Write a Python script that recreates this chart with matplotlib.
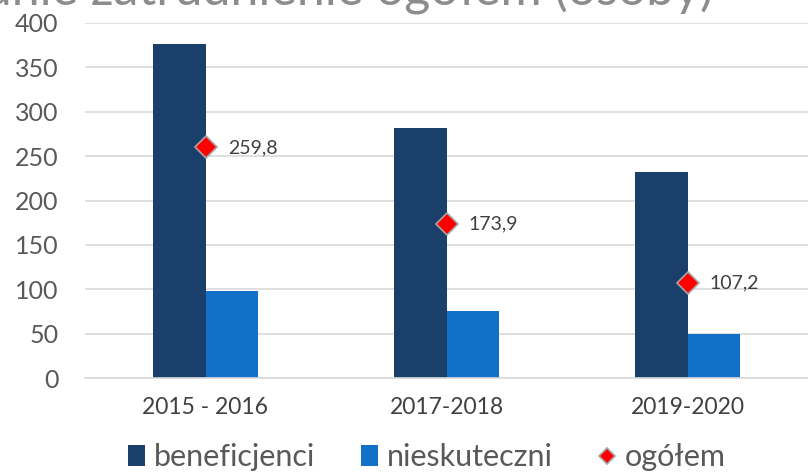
import matplotlib
matplotlib.use("Agg")
import matplotlib.pyplot as plt
import numpy as np

categories = ["2015 - 2016", "2017-2018", "2019-2020"]
beneficjenci = [376, 282, 232]
nieskuteczni = [98, 75, 50]
ogolem = [259.8, 173.9, 107.2]
ogolem_labels = ["259,8", "173,9", "107,2"]
yticks = [0, 50, 100, 150, 200, 250, 300, 350, 400]

plt.rcParams['font.family'] = ['Lato', 'DejaVu Sans']
fig = plt.figure(figsize=(8.08, 4.75), dpi=100)
ax = fig.add_axes([85/808, 1-378/475, 723/808, 355/475])

x = np.arange(len(categories))
w = 0.216
b1 = ax.bar(x - w/2, beneficjenci, w, color="#1a3f6b", label="beneficjenci", zorder=2)
b2 = ax.bar(x + w/2, nieskuteczni, w, color="#1170c7", label="nieskuteczni", zorder=2)
m, = ax.plot(x, ogolem, linestyle="none", marker="D", markersize=11, markerfacecolor="#ff0000",
             markeredgecolor="#a6a6a6", markeredgewidth=1.2, label="ogółem", zorder=3)
for xi, v, lab in zip(x, ogolem, ogolem_labels):
    ax.annotate(lab, (xi, v), xytext=(16, 0), textcoords="offset points", va="center",
                ha="left", fontsize=14, color="#404040")

ax.set_xlim(-0.5, 2.5)
ax.set_ylim(0, 400)
ax.set_yticks(yticks)
ax.set_xticks(x)
ax.set_xticklabels(categories)
ax.grid(axis="y", color="#d9d9d9", linewidth=1.2, zorder=0)
for s in ["top", "right", "left"]:
    ax.spines[s].set_visible(False)
ax.spines["bottom"].set_color("#d9d9d9")
ax.spines["bottom"].set_linewidth(1.2)
ax.tick_params(axis="y", length=0, labelsize=18, labelcolor="#595959", pad=19)
ax.tick_params(axis="x", length=0, labelsize=16.5, labelcolor="#404040", pad=14)

fig.text(713/808, 1 - 4/475, "Średnie zatrudnienie ogółem (osoby)", ha="right", va="baseline",
         fontsize=36, color="#8c8c8c")

leg = fig.legend(handles=[b1, b2, m], loc="lower center", bbox_to_anchor=(0.528, -0.05), ncol=3,
                 frameon=False, fontsize=22, labelcolor="#595959", handlelength=0.55,
                 handletextpad=0.3, columnspacing=1.5, markerscale=0.75)

fig.savefig("out.png", dpi=100)
